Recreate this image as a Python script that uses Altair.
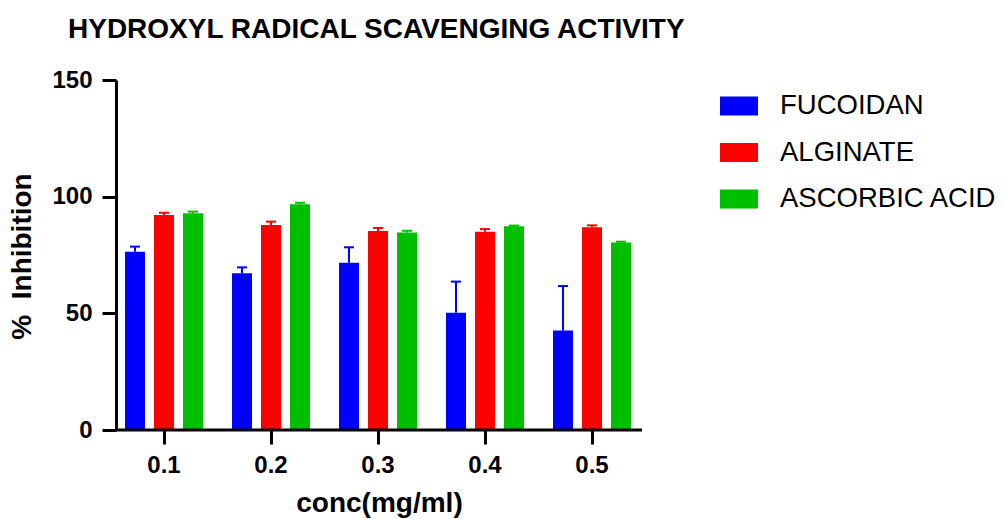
import altair as alt
import pandas as pd

conc = ["0.1", "0.2", "0.3", "0.4", "0.5"]
series = ["FUCOIDAN", "ALGINATE", "ASCORBIC ACID"]
colors = ["#0000FF", "#FF0000", "#00BF00"]

fucoidan = [76.4, 67.2, 71.7, 50.3, 42.6]
fucoidan_sd = [2.2, 2.5, 6.6, 13.3, 19.1]
alginate = [92.1, 87.9, 85.3, 85.0, 86.9]
alginate_sd = [1.0, 1.4, 1.3, 1.1, 0.8]
ascorbic = [92.9, 96.7, 84.6, 87.3, 80.4]
ascorbic_sd = [0.7, 0.7, 0.8, 0.3, 0.3]

rows = []
for name, vals, sds in zip(series, [fucoidan, alginate, ascorbic],
                           [fucoidan_sd, alginate_sd, ascorbic_sd]):
    for c, v, s in zip(conc, vals, sds):
        rows.append({"conc": c, "series": name, "value": v, "upper": v + s})
df = pd.DataFrame(rows)

W, H = 526, 350
FONT = "Liberation Sans"

x_enc = alt.X("conc:N", sort=conc,
              scale=alt.Scale(range=[-5.5, 529.5], paddingInner=0, paddingOuter=0),
              axis=alt.Axis(title="conc(mg/ml)", labelAngle=0, domain=False,
                            tickSize=14, tickWidth=3, tickColor="black",
                            labelFont=FONT, labelFontSize=24, labelFontWeight="bold",
                            labelColor="black", labelPadding=9,
                            titleFont=FONT, titleFontSize=28, titleFontWeight="bold",
                            titleColor="black", titleX=263, titleY=81,
                            titleBaseline="alphabetic", titleAlign="center"))
xo_enc = alt.XOffset("series:N", sort=series,
                     scale=alt.Scale(paddingInner=0.31, paddingOuter=0.5))
y_scale = alt.Scale(domain=[0, 150], nice=False)
y_axis = alt.Axis(title="%\u00a0 Inhibition", values=[0, 50, 100, 150], grid=False,
                  domainWidth=3, domainColor="black", tickSize=14, tickWidth=3,
                  tickColor="black", labelFont=FONT, labelFontSize=24,
                  labelFontWeight="bold", labelColor="black", labelPadding=10,
                  titleFont=FONT, titleFontSize=28, titleFontWeight="bold",
                  titleColor="black", titleX=-94, titleY=176, titleAngle=270,
                  titleAlign="center", titleBaseline="middle")
color_enc = alt.Color("series:N", sort=series,
                      scale=alt.Scale(domain=series, range=colors),
                      legend=alt.Legend(title=None, orient="none", legendX=604, legendY=7,
                                        symbolType="M-1,-0.5H1V0.5H-1Z", symbolSize=1444,
                                        symbolStrokeWidth=0, symbolOpacity=1,
                                        labelFont=FONT, labelFontSize=27.5, labelColor="black",
                                        labelOffset=22, rowPadding=13.5, labelLimit=400))

base = alt.Chart(df)
bars = base.mark_bar(opacity=1).encode(
    x=x_enc, xOffset=xo_enc,
    y=alt.Y("value:Q", scale=y_scale, axis=y_axis),
    color=color_enc,
)
err = base.mark_rule(strokeWidth=2).encode(
    x=x_enc, xOffset=xo_enc,
    y=alt.Y("value:Q", scale=y_scale, axis=y_axis), y2="upper:Q",
    color=alt.Color("series:N", sort=series, scale=alt.Scale(domain=series, range=colors),
                    legend=None),
)
caps = base.mark_tick(size=10, thickness=2, opacity=1).encode(
    x=x_enc, xOffset=xo_enc,
    y=alt.Y("upper:Q", scale=y_scale, axis=y_axis),
    color=alt.Color("series:N", sort=series, scale=alt.Scale(domain=series, range=colors),
                    legend=None),
)
baseline = alt.Chart(pd.DataFrame({"v": [0]})).mark_rule(color="black", strokeWidth=3).encode(
    y=alt.Y("v:Q", scale=y_scale, axis=y_axis), x=alt.value(0), x2=alt.value(W),
)

chart = alt.layer(bars, err, caps, baseline).properties(
    width=W, height=H,
    background="white",
    title=alt.TitleParams("HYDROXYL RADICAL SCAVENGING ACTIVITY", anchor="start",
                          frame="group", dx=-48, dy=-20, font=FONT, fontSize=28,
                          fontWeight="bold", color="black"),
    autosize=alt.AutoSizeParams(type="none"),
    padding={"left": 116, "top": 80, "right": 363, "bottom": 89},
).configure_view(stroke="transparent", strokeWidth=0)

chart.save("out.html", embed_options={"renderer": "svg", "actions": False})
